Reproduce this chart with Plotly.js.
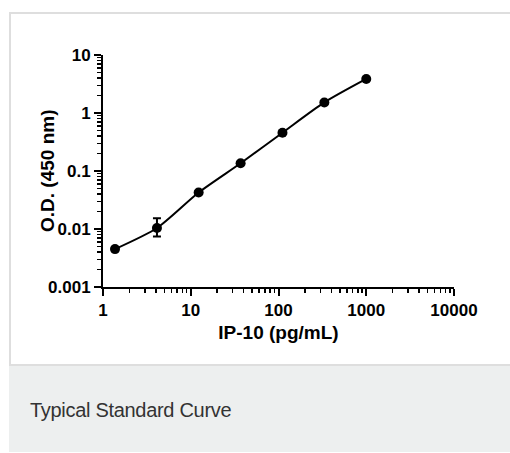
<!DOCTYPE html>
<html>
<head>
<meta charset="utf-8">
<script src="https://cdn.plot.ly/plotly-3.0.1.min.js"></script>
<style>
  html, body { margin:0; padding:0; background:#ffffff; width:510px; height:453px; overflow:hidden; }
  #frame { position:absolute; left:9px; top:12px; width:510px; height:354px; border:2px solid #dedede; border-right:none; box-sizing:border-box; }
  #caption { position:absolute; left:9px; top:366px; width:501px; height:86px; background:#edefef; }
  #caption span { position:absolute; left:21px; top:33px; font-family:"Liberation Sans", Arial, sans-serif; font-size:20px; line-height:23px; color:#333333; letter-spacing:-0.3px; white-space:nowrap; }
  #plot { position:absolute; left:0; top:0; width:510px; height:366px; }
</style>
</head>
<body>
<div id="frame"></div>
<div id="caption"><span></span></div>
<div id="plot"></div>
<script>
// IP-10 standard curve data
const concentration = [1.37, 4.12, 12.3, 37.0, 111, 333, 1000];   // pg/mL
const od450 = [0.0045, 0.0104, 0.0426, 0.136, 0.457, 1.52, 3.86];
const errPlus  = [0, 0.0049, 0, 0, 0, 0, 0];
const errMinus = [0, 0.0030, 0, 0, 0, 0, 0];
const xTitle = "IP-10 (pg/mL)";
const yTitle = "O.D. (450 nm)";
const caption = "Typical Standard Curve";

const boldFont = {family: "Liberation Sans, Arial, sans-serif", size: 17, color: "#000000", weight: "bold"};
const titleFont = {family: "Liberation Sans, Arial, sans-serif", size: 19, color: "#000000", weight: "bold"};

const trace = {
  x: concentration,
  y: od450,
  mode: "lines+markers",
  type: "scatter",
  line: {color: "#000000", width: 2, shape: "spline", smoothing: 0.7},
  marker: {color: "#000000", size: 10, symbol: "circle"},
  error_y: {type: "data", symmetric: false, array: errPlus, arrayminus: errMinus,
            color: "#000000", thickness: 2, width: 4},
  hoverinfo: "x+y",
  showlegend: false
};

const axisCommon = {
  type: "log",
  showline: true, linecolor: "#000000", linewidth: 2,
  ticks: "outside", ticklen: 7, tickwidth: 2, tickcolor: "#000000",
  showgrid: false, zeroline: false,
  dtick: 1, exponentformat: "none", separatethousands: false,
  tickfont: boldFont,
  minor: {dtick: "D1", ticks: "outside", ticklen: 4, tickwidth: 1.5, tickcolor: "#000000", showgrid: false}
};

const layout = {
  width: 510, height: 366,
  margin: {l: 103, r: 56, t: 55, b: 79},
  separators: ".",
  paper_bgcolor: "rgba(0,0,0,0)",
  plot_bgcolor: "rgba(0,0,0,0)",
  xaxis: Object.assign({}, axisCommon, {
    range: [0, 4],
    title: {text: xTitle, font: titleFont, standoff: 6}
  }),
  yaxis: Object.assign({}, axisCommon, {
    range: [-3, 1],
    title: {text: ""}
  }),
  annotations: [{
    text: yTitle, font: titleFont, textangle: -90,
    xref: "paper", yref: "paper", x: 0, y: 0.5,
    xanchor: "center", yanchor: "middle", xshift: -56, showarrow: false
  }]
};

document.querySelector("#caption span").textContent = caption;
Plotly.newPlot("plot", [trace], layout, {displayModeBar: false, staticPlot: true});
</script>
</body>
</html>
